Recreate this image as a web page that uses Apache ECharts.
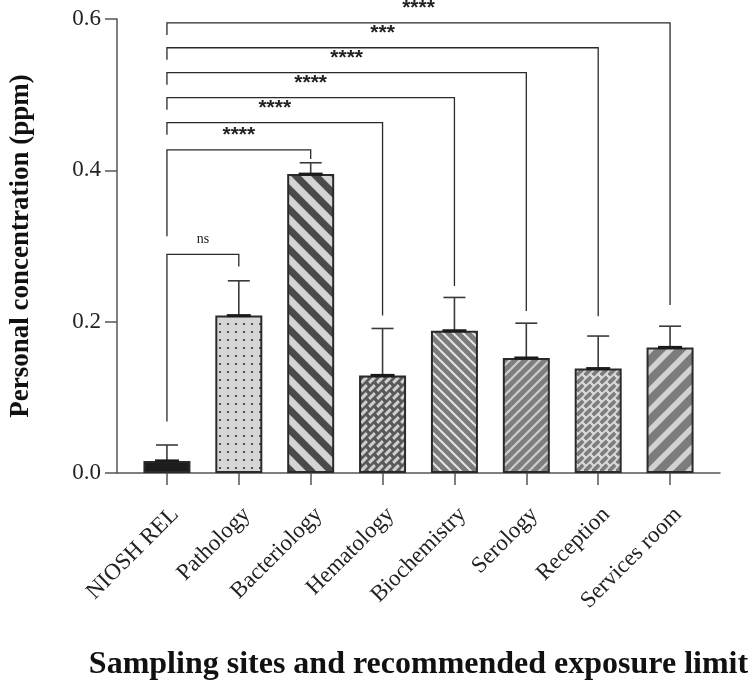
<!DOCTYPE html>
<html>
<head>
<meta charset="utf-8">
<script src="https://cdn.jsdelivr.net/npm/echarts@6/dist/echarts.min.js"></script>
<style>
html,body{margin:0;padding:0;background:#fff;}
#chart{width:750px;height:684px;}
</style>
</head>
<body>
<div id="chart"></div>
<script>
// ---- data ----
const categories = ['NIOSH REL','Pathology','Bacteriology','Hematology','Biochemistry','Serology','Reception','Services room'];
const means = [0.016, 0.208, 0.395, 0.129, 0.188, 0.152, 0.138, 0.166];
const sds   = [0.021, 0.046, 0.015, 0.062, 0.044, 0.046, 0.043, 0.028];
const yTickLabels = ['0.0','0.2','0.4','0.6'];
// significance comparisons (all vs NIOSH REL, index 0)
const compTargets = [1, 2, 3, 4, 5, 6, 7];
const compLabels  = ['ns','****','****','****','****','***','****'];
const compTop     = [0.289, 0.427, 0.463, 0.496, 0.529, 0.562, 0.595];
const compLeftEnd = [0.068, 0.313, 0.447, 0.480, 0.513, 0.546, 0.579];
const compRightEnd= [0.273, 0.415, 0.208, 0.247, 0.214, 0.207, 0.222];

// ---- fill patterns ----
function tile(size, draw){
  const c = document.createElement('canvas');
  c.width = size; c.height = size;
  const ctx = c.getContext('2d');
  draw(ctx, size);
  return c;
}
function stripes(size, bg, fg, w, dir){
  return {image: tile(size, (ctx, s) => {
    ctx.fillStyle = bg; ctx.fillRect(0,0,s,s);
    ctx.strokeStyle = fg; ctx.lineWidth = w;
    for (let k = -1; k <= 1; k++){
      ctx.beginPath();
      if (dir === 'back'){ ctx.moveTo(k*s - s, -s); ctx.lineTo(k*s + 2*s, 2*s); }
      else { ctx.moveTo(k*s - s, 2*s); ctx.lineTo(k*s + 2*s, -s); }
      ctx.stroke();
    }
  }), repeat: 'repeat'};
}
function dots(size, bg, fg, d){
  return {image: tile(size, (ctx, s) => {
    ctx.fillStyle = bg; ctx.fillRect(0,0,s,s);
    ctx.fillStyle = fg; ctx.fillRect(Math.floor(s/2 - d/2), Math.floor(s/2 - d/2), d, d);
  }), repeat: 'repeat'};
}
function bricks(size, bg, fg, L, W){
  return {image: tile(size, (ctx, s) => {
    ctx.fillStyle = bg; ctx.fillRect(0,0,s,s);
    ctx.fillStyle = fg;
    for (let dx = -1; dx <= 1; dx++) for (let dy = -1; dy <= 1; dy++){
      ctx.save();
      ctx.translate(s/2 + dx*s, s/2 + dy*s);
      ctx.rotate(-Math.PI/4);
      ctx.fillRect(-L/2, -W/2, L, W);
      ctx.restore();
    }
  }), repeat: 'repeat'};
}
const fills = [
  '#1c1c1c',
  dots(8, '#d6d6d6', '#505050', 2),
  stripes(20, '#d4d4d4', '#4a4a4a', 7, 'back'),
  bricks(8, '#5a5a5a', '#cfcfcf', 8, 3),
  stripes(10, '#7c7c7c', '#e6e6e6', 2, 'back'),
  stripes(10, '#7e7e7e', '#cdcdcd', 2.2, 'fwd'),
  bricks(8, '#dadada', '#7c7c7c', 9, 3.8),
  stripes(20, '#7c7c7c', '#d2d2d2', 5.5, 'fwd')
];

const serif = 'Liberation Serif, Times New Roman, serif';
const axisColor = '#555';

const chart = echarts.init(document.getElementById('chart'), null, {renderer: 'canvas'});
chart.setOption({
  animation: false,
  backgroundColor: '#fff',
  grid: [
    {left: 131, width: 575, top: 19, height: 454, containLabel: false, outerBoundsMode: 'none'},
    {left: 117, right: 30, top: 19, height: 454, containLabel: false, outerBoundsMode: 'none'}
  ],
  xAxis: [
    {
      type: 'category', gridIndex: 0, data: categories,
      axisLine: {show: false},
      axisTick: {show: true, alignWithLabel: true, length: 12, lineStyle: {color: axisColor, width: 1.5}},
      axisLabel: {rotate: 45, interval: 0, margin: 30, verticalAlign: 'top', fontFamily: serif, fontSize: 23, color: '#222'},
      name: 'Sampling sites and recommended exposure limit',
      nameLocation: 'middle', nameGap: 176, nameMoveOverlap: false,
      nameTextStyle: {fontFamily: serif, fontWeight: 'bold', fontSize: 32, color: '#111'}
    },
    {
      type: 'value', gridIndex: 1, min: 0, max: 1,
      axisLine: {show: true, lineStyle: {color: axisColor, width: 1.5}},
      axisTick: {show: false}, axisLabel: {show: false}, splitLine: {show: false}
    }
  ],
  yAxis: [
    {
      type: 'value', gridIndex: 0, min: 0, max: 0.6, interval: 0.2, offset: 14,
      axisLine: {show: true, lineStyle: {color: axisColor, width: 1.5}},
      axisTick: {show: true, length: 12, lineStyle: {color: axisColor, width: 1.5}},
      axisLabel: {margin: 16, fontFamily: serif, fontSize: 23, color: '#222',
        formatter: (v) => yTickLabels[Math.round(v / 0.2)]},
      splitLine: {show: false},
      name: 'Personal concentration (ppm)',
      nameLocation: 'middle', nameGap: 82, nameMoveOverlap: false,
      nameTextStyle: {fontFamily: serif, fontWeight: 'bold', fontSize: 27, color: '#111'}
    },
    {type: 'value', gridIndex: 1, show: false, min: 0, max: 1}
  ],
  series: [
    {
      type: 'bar', xAxisIndex: 0, yAxisIndex: 0, barWidth: 47,
      data: means.map((v, i) => ({value: v, itemStyle: {color: fills[i]}})),
      itemStyle: {borderColor: '#2a2a2a', borderWidth: 2},
      z: 2
    },
    {
      type: 'custom', xAxisIndex: 0, yAxisIndex: 0, z: 3, clip: false,
      data: means.map((m, i) => [i, m, sds[i]]),
      renderItem: (params, api) => {
        const i = api.value(0), m = api.value(1), s = api.value(2);
        const p0 = api.coord([i, m]);
        const p1 = api.coord([i, m + s]);
        const st = {stroke: '#3a3a3a', lineWidth: 1.6};
        return {type: 'group', children: [
          {type: 'line', shape: {x1: p0[0], y1: p0[1], x2: p1[0], y2: p1[1]}, style: st},
          {type: 'line', shape: {x1: p1[0] - 11, y1: p1[1], x2: p1[0] + 11, y2: p1[1]}, style: st},
          {type: 'line', shape: {x1: p0[0] - 12, y1: p0[1], x2: p0[0] + 12, y2: p0[1]}, style: {stroke: '#1a1a1a', lineWidth: 3}}
        ]};
      }
    },
    {
      type: 'custom', xAxisIndex: 0, yAxisIndex: 0, z: 4, clip: false,
      data: compTargets.map((t, k) => [t, compTop[k], compLeftEnd[k], compRightEnd[k]]),
      renderItem: (params, api) => {
        const t = api.value(0), top = api.value(1), le = api.value(2), re = api.value(3);
        const a = api.coord([0, le]), b = api.coord([0, top]), c = api.coord([t, top]), d = api.coord([t, re]);
        const lab = compLabels[params.dataIndex];
        const isNs = lab === 'ns';
        return {type: 'group', children: [
          {type: 'polyline', shape: {points: [a, b, c, d]}, style: {stroke: '#2a2a2a', lineWidth: 1.3, fill: null}},
          {type: 'text', x: (b[0] + c[0]) / 2, y: b[1] - (isNs ? 8 : 4),
           style: {text: lab, align: 'center', verticalAlign: 'bottom',
             font: isNs ? ('14px ' + serif) : ('bold 21px Liberation Sans, Arial, sans-serif'),
             fill: '#222'}}
        ]};
      }
    }
  ]
});
</script>
</body>
</html>
